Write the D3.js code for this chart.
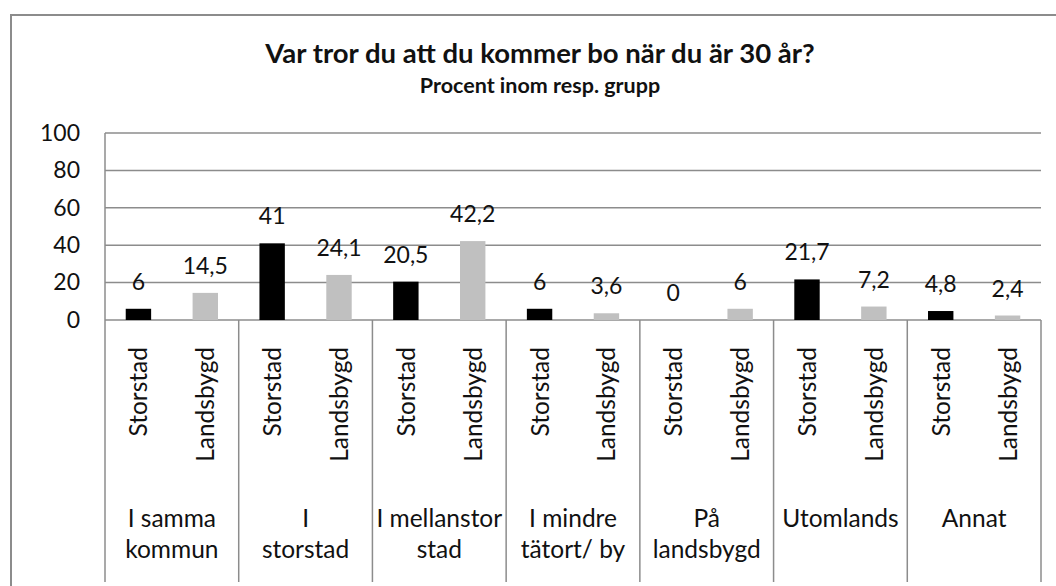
<!DOCTYPE html>
<html>
<head>
<meta charset="utf-8">
<script src="https://cdn.jsdelivr.net/npm/d3@7"></script>
<style>
  body { margin: 0; background: #fff; }
  text { font-family: Lato, "Open Sans", sans-serif; fill: #111; }
</style>
</head>
<body>
<svg id="canvas" width="1056" height="586"></svg>
<script>
let groups = [
  ["I samma", "kommun"],
  ["I", "storstad"],
  ["I mellanstor", "stad"],
  ["I mindre", "tätort/ by"],
  ["På", "landsbygd"],
  ["Utomlands"],
  ["Annat"]
];
let seriesNames = ["Storstad", "Landsbygd"];
let storstad = [6, 41, 20.5, 6, 0, 21.7, 4.8];
let landsbygd = [14.5, 24.1, 42.2, 3.6, 6, 7.2, 2.4];
let yTicks = [0, 20, 40, 60, 80, 100];

let svg = d3.select("#canvas");

// chart frame
svg.append("path")
  .attr("d", "M11,600 V15 H1060")
  .attr("fill", "none")
  .attr("stroke", "#8c8c8c")
  .attr("stroke-width", 2);

svg.append("text")
  .attr("x", 540).attr("y", 63)
  .attr("text-anchor", "middle")
  .style("font-size", "27.5px").style("font-weight", "bold")
  .text("Var tror du att du kommer bo när du är 30 år?");

svg.append("text")
  .attr("x", 540).attr("y", 93)
  .attr("text-anchor", "middle")
  .style("font-size", "21.5px").style("font-weight", "bold")
  .text("Procent inom resp. grupp");

let plotLeft = 105, plotRight = 1041, plotTop = 133, plotBottom = 320;

let x = d3.scaleBand().domain(d3.range(groups.length)).range([plotLeft, plotRight]);
let xi = d3.scaleBand().domain(seriesNames).range([0, x.bandwidth()]).paddingInner(0.62).paddingOuter(0.31);
let y = d3.scaleLinear().domain([0, 100]).range([plotBottom, plotTop]);

// gridlines
svg.append("g").selectAll("line")
  .data(yTicks)
  .enter()
  .append("line")
  .attr("x1", plotLeft).attr("x2", plotRight)
  .attr("y1", (d) => y(d)).attr("y2", (d) => y(d))
  .attr("stroke", "#8c8c8c").attr("stroke-width", 1.5);

svg.append("line")
  .attr("x1", plotLeft).attr("x2", plotLeft)
  .attr("y1", plotTop).attr("y2", plotBottom)
  .attr("stroke", "#8c8c8c").attr("stroke-width", 1.5);

// y axis labels
let yAxis = svg.append("g")
  .attr("transform", "translate(" + (plotLeft - 8) + ",0)")
  .call(d3.axisLeft(y).tickValues(yTicks).tickSize(0).tickPadding(17));
yAxis.select(".domain").remove();
yAxis.selectAll("text")
  .style("font-size", "23px")
  .style("font-family", "Lato, 'Open Sans', sans-serif")
  .attr("fill", "#111");

// category dividers
svg.append("g").selectAll("line")
  .data(d3.range(groups.length + 1))
  .enter()
  .append("line")
  .attr("x1", (d) => plotLeft + d * x.bandwidth())
  .attr("x2", (d) => plotLeft + d * x.bandwidth())
  .attr("y1", plotBottom).attr("y2", 582)
  .attr("stroke", "#8c8c8c").attr("stroke-width", 1.5);

let rows = [];
groups.forEach((g, i) => {
  rows.push({ g: i, s: "Storstad", v: storstad[i] });
  rows.push({ g: i, s: "Landsbygd", v: landsbygd[i] });
});

let cx = (d) => x(d.g) + xi(d.s) + xi.bandwidth() / 2;

svg.append("g").selectAll("rect")
  .data(rows)
  .enter()
  .append("rect")
  .attr("x", (d) => x(d.g) + xi(d.s))
  .attr("width", xi.bandwidth())
  .attr("y", (d) => y(d.v))
  .attr("height", (d) => y(0) - y(d.v))
  .attr("fill", (d) => (d.s === "Storstad" ? "#000000" : "#c0c0c0"));

// value labels
svg.append("g").selectAll("text")
  .data(rows)
  .enter()
  .append("text")
  .attr("x", cx)
  .attr("y", (d) => y(d.v) - 19)
  .attr("text-anchor", "middle")
  .style("font-size", "23px")
  .text((d) => String(d.v).replace(".", ","));

// series labels, rotated
svg.append("g").selectAll("text")
  .data(rows)
  .enter()
  .append("text")
  .attr("transform", (d) => "translate(" + (cx(d) + 9) + ",347) rotate(-90)")
  .attr("text-anchor", "end")
  .style("font-size", "24.5px")
  .text((d) => d.s);

// group labels
let gl = svg.append("g").selectAll("text")
  .data(groups)
  .enter()
  .append("text")
  .attr("x", (d, i) => x(i) + x.bandwidth() / 2)
  .attr("y", 527)
  .attr("text-anchor", "middle")
  .style("font-size", "24.5px");

gl.selectAll("tspan")
  .data((d, i) => d.map((t) => ({ t: t, i: i })))
  .enter()
  .append("tspan")
  .attr("x", (d) => x(d.i) + x.bandwidth() / 2)
  .attr("dy", (d, k) => (k === 0 ? 0 : 31))
  .text((d) => d.t);
</script>
</body>
</html>
